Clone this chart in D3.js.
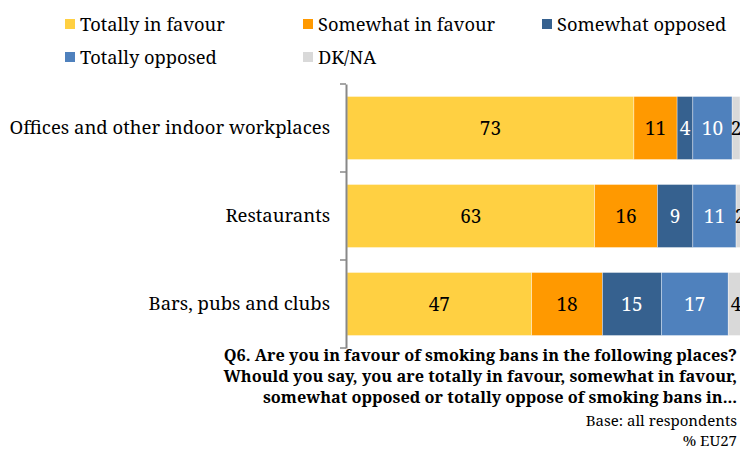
<!DOCTYPE html>
<html><head><meta charset="utf-8">
<script src="https://cdn.jsdelivr.net/npm/d3@7"></script>
<style>body{margin:0;background:#fff}svg{display:block}</style>
</head><body><svg id="c" width="740" height="450"></svg>
<script>
const categories = ["Offices and other indoor workplaces", "Restaurants", "Bars, pubs and clubs"];
const seriesNames = ["Totally in favour", "Somewhat in favour", "Somewhat opposed", "Totally opposed", "DK/NA"];
const totallyFavour = [73, 63, 47];
const somewhatFavour = [11, 16, 18];
const somewhatOpposed = [4, 9, 15];
const totallyOpposed = [10, 11, 17];
const dkna = [2, 2, 4];
const colors = ["#FFD042", "#FF9900", "#36618F", "#4F81BD", "#D9D9D9"];
const labelColors = ["#000", "#000", "#fff", "#fff", "#000"];
const footLines = ["Q6. Are you in favour of smoking bans in the following places?",
  "Whould you say, you are totally in favour, somewhat in favour,",
  "somewhat opposed or totally oppose of smoking bans in..."];
const baseLines = ["Base: all respondents", "% EU27"];

const series = [totallyFavour, somewhatFavour, somewhatOpposed, totallyOpposed, dkna];
const svg = d3.select("#c");
const font = "'Noto Serif', 'DejaVu Serif', serif";

const x = d3.scaleLinear().domain([0, 100]).range([347, 740]);
const y = d3.scaleBand().domain(categories).range([84, 348]).paddingInner(0.284).paddingOuter(0.142);

// bars
categories.forEach((cat, i) => {
  let cum = 0;
  series.forEach((s, k) => {
    const v = s[i];
    const x0 = x(cum), x1 = x(cum + v);
    svg.append("rect").attr("x", x0).attr("y", y(cat)).attr("width", x1 - x0).attr("height", y.bandwidth())
      .attr("fill", colors[k]).attr("stroke", "#fff").attr("stroke-width", 0.6).attr("stroke-opacity", 0.6);
    svg.append("text").attr("x", (x0 + x1) / 2).attr("y", y(cat) + y.bandwidth() / 2)
      .attr("text-anchor", "middle").attr("dominant-baseline", "central")
      .attr("font-family", font).attr("font-size", 19).attr("fill", labelColors[k]).text(v);
    cum += v;
  });
});

// axis
const yAxis = d3.axisLeft(y).tickSize(0).tickPadding(16);
const ag = svg.append("g").attr("transform", "translate(346,0)").call(yAxis);
ag.select(".domain").attr("stroke", "#888").attr("stroke-width", 2);
ag.selectAll("text").attr("font-family", font).attr("font-size", 18.5).attr("fill", "#000");
const bounds = [y.range()[0]].concat(categories.map(c => y(c) + y.bandwidth() + y.step() * y.paddingInner() / 2));
bounds[bounds.length - 1] = y.range()[1];
svg.selectAll(".tk").data(bounds).enter().append("line")
  .attr("x1", 340).attr("x2", 346).attr("y1", d => d).attr("y2", d => d)
  .attr("stroke", "#888").attr("stroke-width", 1.5);

// legend
const legPos = [[65, 24], [303, 24], [542, 24], [65, 57], [303, 57]];
seriesNames.forEach((n, k) => {
  const [lx, ly] = legPos[k];
  svg.append("rect").attr("x", lx).attr("y", ly - 5).attr("width", 10).attr("height", 10).attr("fill", colors[k]);
  svg.append("text").attr("x", lx + 15).attr("y", ly + 7)
    .attr("font-family", font).attr("font-size", 18.3).attr("fill", "#000").text(n);
});

// footnote
footLines.forEach((t, i) => {
  svg.append("text").attr("x", 737).attr("y", 361 + i * 21).attr("text-anchor", "end")
    .attr("font-family", font).attr("font-weight", "bold").attr("font-size", 16.3).attr("fill", "#000").text(t);
});
baseLines.forEach((t, i) => {
  svg.append("text").attr("x", 737).attr("y", 426 + i * 20).attr("text-anchor", "end")
    .attr("font-family", font).attr("font-size", 15).attr("fill", "#000").text(t);
});
</script></body></html>
